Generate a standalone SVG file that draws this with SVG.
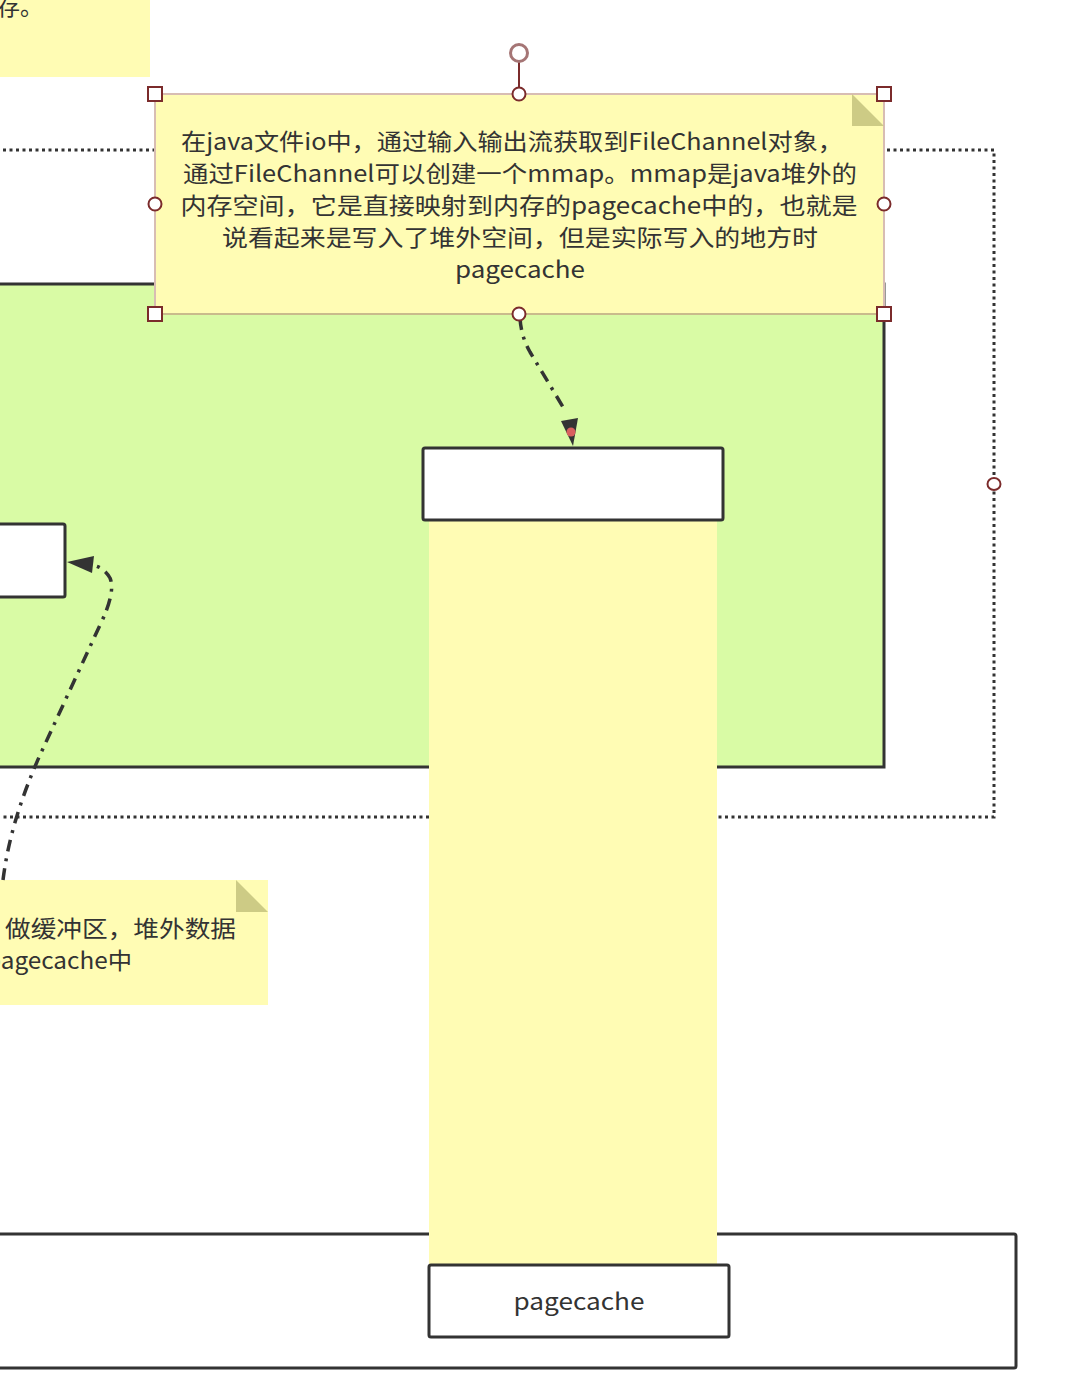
<svg xmlns="http://www.w3.org/2000/svg" width="1084" height="1394" viewBox="0 0 1084 1394">
<style>
.note{fill:#fffcb4}
.fold{fill:#cdcb85}
.box{fill:#fff;stroke:#333;stroke-width:3}
.txt{font-family:"Noto Sans CJK SC","Noto Sans",sans-serif;fill:#333;font-size:23px}
.conn{fill:none;stroke:#333;stroke-width:3.5;stroke-dasharray:12 7 3 7}
.head{fill:#333}
.hsq{fill:#fff;stroke:#7b2b2b;stroke-width:2}
.hci{fill:#fff;stroke:#7b2b2b;stroke-width:2}
</style>
<rect width="1084" height="1394" fill="#fff"/>
<g id="note-topleft">
<rect class="note" x="-10" y="-10" width="160" height="87"/>
<text class="txt" x="-3" y="15" font-size="24">存。</text>
</g>
<g id="outer-dotted">
<path d="M-10,150 H994 V817 H-10" fill="none" stroke="#333" stroke-width="3" stroke-dasharray="3 3.5"/>
<ellipse class="hci" cx="994" cy="484" rx="6.5" ry="6"/>
</g>
<g id="green-box">
<rect x="-10" y="284" width="894" height="483" fill="#d9fba5" stroke="#333" stroke-width="3"/>
</g>
<g id="left-box">
<rect class="box" x="-10" y="524" width="75" height="73" rx="2"/>
</g>
<g id="bottom-box">
<rect class="box" x="-10" y="1234" width="1026" height="134" rx="2"/>
</g>
<g id="pagecache-column">
<rect class="note" x="429" y="520" width="288" height="745"/>
</g>
<g id="mmap-box">
<rect class="box" x="423" y="448" width="300" height="72" rx="2"/>
</g>
<g id="pagecache-box">
<rect class="box" x="429" y="1265" width="300" height="72" rx="2"/>
<text class="txt" x="579" y="1310" text-anchor="middle" font-size="24" textLength="131" lengthAdjust="spacingAndGlyphs">pagecache</text>
</g>
<g id="note-bottomleft">
<rect class="note" x="-10" y="880" width="278" height="125"/>
<polygon class="fold" points="236,880 268,912 236,912"/>
<text class="txt" x="5" y="937" font-size="24" textLength="231" lengthAdjust="spacingAndGlyphs">做缓冲区，堆外数据</text>
<text class="txt" x="-14" y="969" font-size="24" textLength="146" lengthAdjust="spacingAndGlyphs">pagecache中</text>
</g>
<g id="connectors">
<path class="conn" d="M520,318 Q521,336 530,352 L566,412"/>
<polygon class="head" points="561,421 578,418 573,446"/>
<circle cx="571" cy="432" r="4.5" fill="#d9605f"/>
<path class="conn" d="M3,880 C8,840 20,800 40,755 L100,625 Q116,592 110,578 Q105,569 96,566"/>
<polygon class="head" points="67,562 94,556 92,573"/>
</g>
<g id="note-main">
<rect class="note" x="155" y="94" width="729" height="220" stroke="#d8bdb3" stroke-width="2"/>
<polygon class="fold" points="852,94 884,126 852,126"/>
<line x1="155" y1="314" x2="884" y2="314" stroke="#c9bb8c" stroke-width="2"/>
<text class="txt" x="512" y="150" text-anchor="middle" textLength="662" lengthAdjust="spacingAndGlyphs">在java文件io中，通过输入输出流获取到FileChannel对象，</text>
<text class="txt" x="520" y="182" text-anchor="middle" textLength="674" lengthAdjust="spacingAndGlyphs">通过FileChannel可以创建一个mmap。mmap是java堆外的</text>
<text class="txt" x="519" y="214" text-anchor="middle" textLength="677" lengthAdjust="spacingAndGlyphs">内存空间，它是直接映射到内存的pagecache中的，也就是</text>
<text class="txt" x="520" y="246" text-anchor="middle" textLength="596" lengthAdjust="spacingAndGlyphs">说看起来是写入了堆外空间，但是实际写入的地方时</text>
<text class="txt" x="520" y="278" text-anchor="middle" textLength="130" lengthAdjust="spacingAndGlyphs">pagecache</text>
</g>
<g id="selection-handles">
<line x1="519" y1="62" x2="519" y2="88" stroke="#7b2b2b" stroke-width="2"/>
<circle cx="519" cy="53" r="8.5" fill="#fff" stroke="#a57575" stroke-width="3"/>
<rect class="hsq" x="148" y="87" width="14" height="14"/>
<rect class="hsq" x="877" y="87" width="14" height="14"/>
<rect class="hsq" x="148" y="307" width="14" height="14"/>
<rect class="hsq" x="877" y="307" width="14" height="14"/>
<ellipse class="hci" cx="519" cy="94" rx="6.5" ry="6.5"/>
<ellipse class="hci" cx="519" cy="314" rx="6.5" ry="6.5"/>
<ellipse class="hci" cx="155" cy="204" rx="6.5" ry="6.5"/>
<ellipse class="hci" cx="884" cy="204" rx="6.5" ry="6.5"/>
</g>
</svg>
